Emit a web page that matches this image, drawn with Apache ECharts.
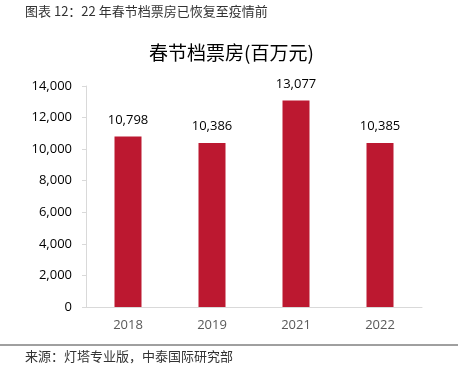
<!DOCTYPE html>
<html>
<head>
<meta charset="utf-8">
<script src="https://cdn.jsdelivr.net/npm/echarts@6/dist/echarts.min.js"></script>
<style>
  html, body { margin: 0; padding: 0; background: #fff; }
  #chart { width: 463px; height: 376px; }
</style>
</head>
<body>
<div id="chart"></div>
<script>
// 春节档票房（百万元）
const years = ['2018', '2019', '2021', '2022'];
const boxOffice = [10798, 10386, 13077, 10385];
const yTicks = { min: 0, max: 14000, interval: 2000 };

const headerText = '图表 12：22 年春节档票房已恢复至疫情前';
const chartTitle = '春节档票房(百万元)';
const sourceText = '来源：灯塔专业版，中泰国际研究部';

const fontLatin = '"Open Sans", "Noto Sans CJK SC", sans-serif';
const fontCJK = '"Noto Sans CJK SC", sans-serif';

const chart = echarts.init(document.getElementById('chart'));

chart.setOption({
    animation: false,
    title: {
        text: chartTitle,
        left: 'center',
        top: 38,
        textStyle: { fontFamily: fontCJK, fontSize: 19, fontWeight: 'normal', color: '#000' }
    },
    grid: { left: 86, right: 41, top: 86, bottom: 69 },
    xAxis: {
        type: 'category',
        data: years,
        axisLine: { lineStyle: { color: '#d9d9d9', width: 1 } },
        axisTick: { show: false },
        axisLabel: { color: '#595959', fontFamily: fontLatin, fontSize: 13, margin: 12 }
    },
    yAxis: {
        type: 'value',
        min: yTicks.min,
        max: yTicks.max,
        interval: yTicks.interval,
        axisLine: { show: true, lineStyle: { color: '#d9d9d9', width: 1 } },
        axisTick: { show: true, length: 4, lineStyle: { color: '#d9d9d9' } },
        splitLine: { show: false },
        axisLabel: {
            color: '#000',
            fontFamily: fontLatin,
            fontSize: 13,
            margin: 14,
            formatter: v => v.toLocaleString('en-US')
        }
    },
    series: [{
        type: 'bar',
        data: boxOffice,
        barWidth: 27,
        itemStyle: { color: '#BC1830' },
        label: {
            show: true,
            position: 'top',
            distance: 10,
            color: '#000',
            fontFamily: fontLatin,
            fontSize: 13,
            formatter: p => p.value.toLocaleString('en-US')
        }
    }],
    graphic: [
        {
            type: 'text',
            left: 25,
            top: 5,
            style: { text: headerText, fill: '#333', font: '13px ' + fontCJK }
        },
        {
            type: 'line',
            shape: { x1: 0, y1: 345, x2: 458, y2: 345 },
            style: { stroke: '#404040', lineWidth: 1 }
        },
        {
            type: 'text',
            left: 25,
            top: 350,
            style: { text: sourceText, fill: '#333', font: '13px ' + fontCJK }
        }
    ]
});
</script>
</body>
</html>
